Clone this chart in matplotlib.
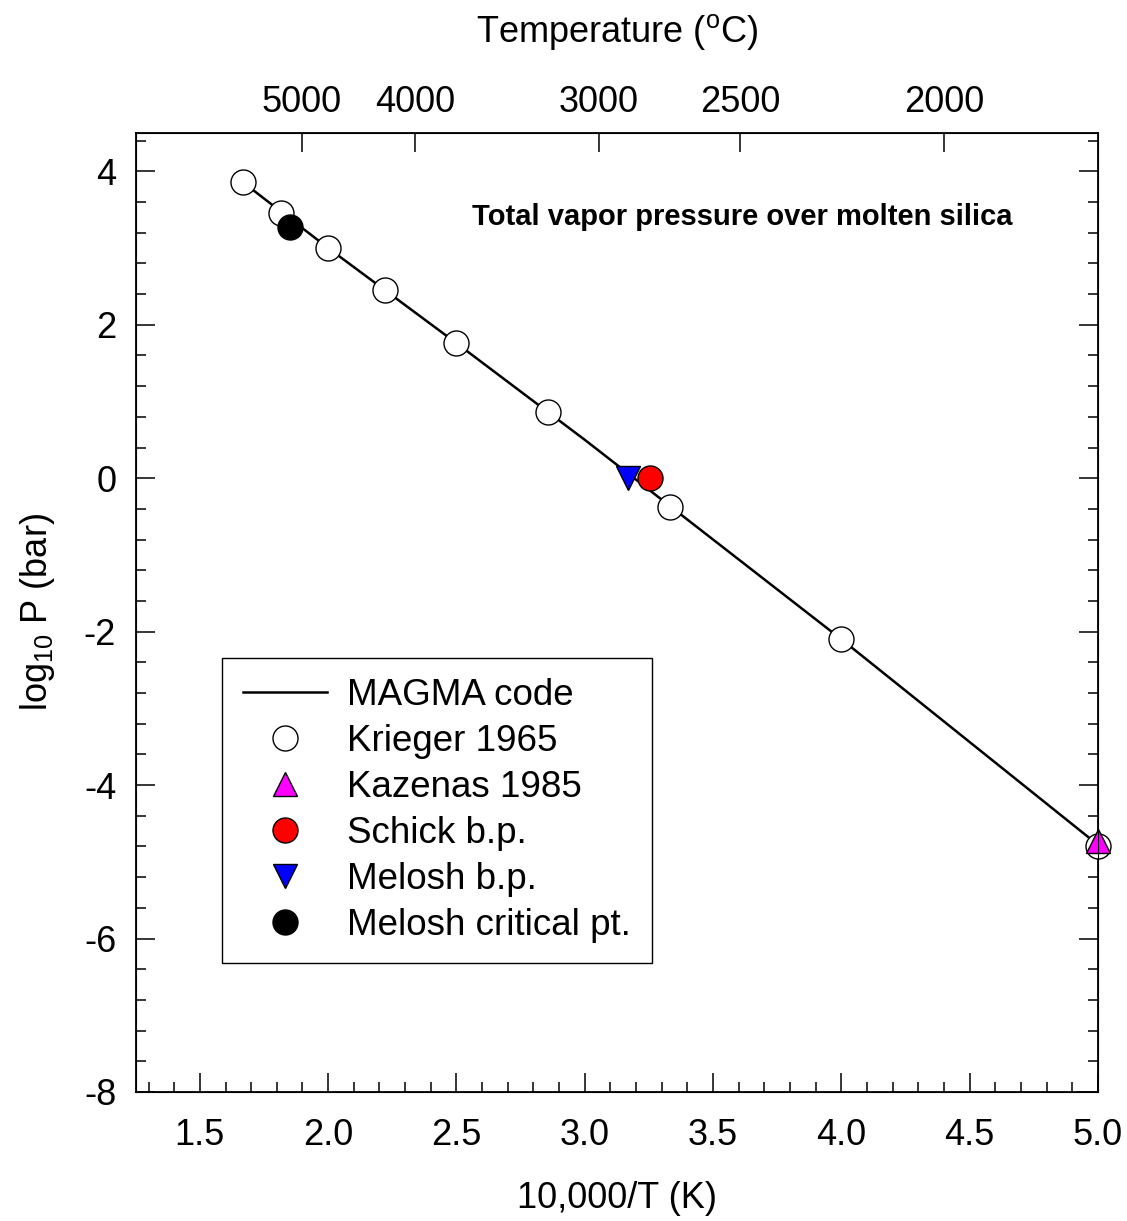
import numpy as np
import matplotlib
matplotlib.use("Agg")
import matplotlib.pyplot as plt
from matplotlib.ticker import MultipleLocator

plt.rcParams['font.family'] = ['Liberation Sans', 'DejaVu Sans']
plt.rcParams['mathtext.fontset'] = 'custom'
plt.rcParams['mathtext.rm'] = 'Liberation Sans'
plt.rcParams['axes.unicode_minus'] = False

# MAGMA code curve (10,000/T vs log10 P)
magma_x = [1.667, 2.0, 2.5, 3.0, 3.5, 4.0, 4.5, 5.0]
magma_y = [3.86, 3.00, 1.76, 0.50, -0.80, -2.10, -3.44, -4.78]

# Krieger 1965
krieger_x = [1.667, 1.818, 2.0, 2.222, 2.5, 2.857, 3.333, 4.0, 5.0]
krieger_y = [3.86, 3.46, 3.00, 2.45, 1.76, 0.86, -0.37, -2.10, -4.80]

# Kazenas 1985
kazenas_x = [5.0]
kazenas_y = [-4.73]

# Schick boiling point
schick_x = [3.255]
schick_y = [0.0]

# Melosh boiling point
melosh_bp_x = [3.167]
melosh_bp_y = [0.0]

# Melosh critical point
melosh_cp_x = [1.852]
melosh_cp_y = [3.28]

# top axis temperatures (deg C)
temps_c = [5000, 4000, 3000, 2500, 2000]

fig = plt.figure(figsize=(11.27, 12.21), dpi=100)
ax = fig.add_axes([0.1204, 0.1057, 0.8539, 0.7854])

ms = 18
ax.plot(magma_x, magma_y, color="black", lw=1.8, label="MAGMA code", zorder=2)
ax.plot(krieger_x, krieger_y, "o", ms=ms, mfc="white", mec="black", mew=1.0,
        label="Krieger 1965", zorder=3, clip_on=False)
ax.plot(kazenas_x, kazenas_y, "^", ms=17, mfc="magenta", mec="black", mew=1.0,
        label="Kazenas 1985", zorder=4, clip_on=False)
ax.plot(melosh_bp_x, melosh_bp_y, "v", ms=17, mfc="blue", mec="black", mew=1.0,
        label="Melosh b.p.", zorder=4)
ax.plot(schick_x, schick_y, "o", ms=ms, mfc="red", mec="black", mew=1.0,
        label="Schick b.p.", zorder=5)
ax.plot(melosh_cp_x, melosh_cp_y, "o", ms=ms, mfc="black", mec="black", mew=1.0,
        label="Melosh critical pt.", zorder=5)

ax.set_xlim(1.25, 5.0)
ax.set_ylim(-8, 4.5)
ax.xaxis.set_major_locator(MultipleLocator(0.5))
ax.xaxis.set_minor_locator(MultipleLocator(0.1))
ax.yaxis.set_major_locator(MultipleLocator(2))
ax.yaxis.set_minor_locator(MultipleLocator(0.4))
ax.xaxis.set_major_formatter(plt.FormatStrFormatter("%.1f"))

ax.tick_params(axis="x", which="both", direction="in", top=False, bottom=True,
               labelsize=26, pad=19)
ax.tick_params(axis="y", which="both", direction="in", left=True, right=True,
               labelsize=26, pad=14)
ax.tick_params(which="major", length=14, width=1.1)
ax.tick_params(which="minor", length=7, width=1.1)
for s in ax.spines.values():
    s.set_linewidth(1.3)

ax.set_xlabel("10,000/T (K)", fontsize=26, labelpad=20)
ax.set_ylabel("log$_{10}$ P (bar)", fontsize=26, labelpad=19)

# top temperature axis
ax2 = ax.twiny()
ax2.set_xlim(ax.get_xlim())
ax2.set_xticks([10000.0 / (t + 273.15) for t in temps_c])
ax2.set_xticklabels([str(t) for t in temps_c])
ax2.tick_params(axis="x", direction="in", length=14, width=1.1, labelsize=26, pad=9)
ax2.set_xlabel("Temperature ($^{\\mathrm{o}}$C)", fontsize=26, labelpad=31)

ax.text(2.56, 3.40, "Total vapor pressure over molten silica", fontsize=21,
        fontweight="bold", ha="left", va="center")

handles, labels = ax.get_legend_handles_labels()
order = ["MAGMA code", "Krieger 1965", "Kazenas 1985", "Schick b.p.",
         "Melosh b.p.", "Melosh critical pt."]
hmap = dict(zip(labels, handles))
leg = ax.legend([hmap[k] for k in order], order, loc="lower left",
                bbox_to_anchor=(0.090, 0.134), borderaxespad=0, fontsize=26.5,
                fancybox=False, framealpha=1, edgecolor="black",
                handlelength=2.3, handletextpad=0.55, labelspacing=0.30,
                borderpad=0.55)
leg.get_frame().set_linewidth(1.0)

fig.savefig("out.png", dpi=100)
